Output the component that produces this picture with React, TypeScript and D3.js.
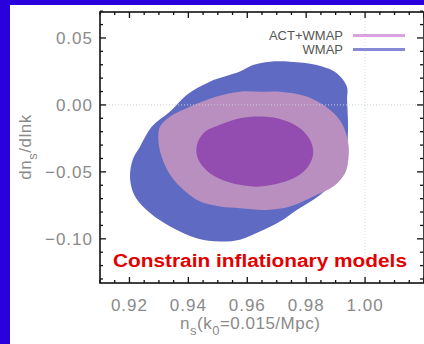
import React from 'react';
import * as d3 from 'd3';

// contour outlines: [n_s, dn_s/dlnk]
const wmap95: [number, number][] = [
  [0.9202, -0.0547], [0.9211, -0.0410], [0.9236, -0.0311], [0.9276, -0.0162],
  [0.9338, -0.0050], [0.9394, 0.0075], [0.9473, 0.0174], [0.9575, 0.0249],
  [0.9619, 0.0298], [0.9677, 0.0323], [0.9745, 0.0323], [0.9836, 0.0298],
  [0.9904, 0.0237], [0.9938, 0.0137], [0.9939, 0.0037], [0.9942, -0.0187],
  [0.9932, -0.0410], [0.9898, -0.0560], [0.9847, -0.0672], [0.9768, -0.0784],
  [0.9711, -0.0871], [0.9643, -0.0946], [0.9575, -0.1007], [0.9507, -0.1020],
  [0.9428, -0.0995], [0.9338, -0.0908], [0.9270, -0.0808], [0.9219, -0.0684],
];

const act95: [number, number][] = [
  [0.9575, 0.0099], [0.9496, 0.0062], [0.9394, -0.0025], [0.9338, -0.0087],
  [0.9304, -0.0162], [0.9298, -0.0261], [0.9309, -0.0386], [0.9338, -0.0522],
  [0.9383, -0.0634], [0.9440, -0.0722], [0.9507, -0.0759], [0.9575, -0.0771],
  [0.9666, -0.0784], [0.9745, -0.0759], [0.9824, -0.0684], [0.9892, -0.0610],
  [0.9932, -0.0510], [0.9943, -0.0410], [0.9943, -0.0286], [0.9921, -0.0137],
  [0.9881, -0.0037], [0.9802, 0.0062], [0.9711, 0.0099], [0.9643, 0.0099],
];

const act68: [number, number][] = [
  [0.9575, -0.0099], [0.9507, -0.0149], [0.9451, -0.0211], [0.9428, -0.0311],
  [0.9434, -0.0410], [0.9473, -0.0510], [0.9530, -0.0572], [0.9575, -0.0597],
  [0.9643, -0.0610], [0.9711, -0.0584], [0.9768, -0.0535], [0.9807, -0.0460],
  [0.9824, -0.0360], [0.9813, -0.0261], [0.9779, -0.0174], [0.9722, -0.0112],
  [0.9654, -0.0087],
];

const xTickLabels = ['0.92', '0.94', '0.96', '0.98', '1.00'];
const yTickLabels = ['0.05', '0.00', '-0.05', '-0.10'];
const legendLabels = ['ACT+WMAP', 'WMAP'];
const legendColors = ['#d9a3e2', '#8589d6'];

const W = 424;
const H = 344;

export default function App() {
  const x = d3.scaleLinear().domain([0.91, 1.02]).range([100, 424]);
  const y = d3.scaleLinear().domain([-0.133, 0.0694]).range([283, 12]);

  const line = d3
    .line<[number, number]>()
    .x((d) => x(d[0]))
    .y((d) => y(d[1]))
    .curve(d3.curveCatmullRomClosed.alpha(0.5));

  const xMinor = d3.range(0.91, 1.0201, 0.005);
  const yMinor = d3.range(-0.13, 0.0701, 0.01);
  const isMajorX = (v: number) => Math.abs(v * 50 - Math.round(v * 50)) < 1e-6;
  const isMajorY = (v: number) => Math.abs(v * 20 - Math.round(v * 20)) < 1e-6;

  const [x0, x1] = x.range();
  const y0 = y.range()[1];
  const y1 = y.range()[0];
  const tickFont = { fontFamily: 'Liberation Sans, Arial, sans-serif', fill: '#8a8a8a', fontSize: 17, letterSpacing: 1 };

  return (
    <svg width={W} height={H} style={{ position: 'fixed', left: 0, top: 0 }}>
      <rect x={0} y={0} width={W} height={H} fill="#2a00dc" />
      <rect x={10} y={5} width={W - 10} height={H - 5} fill="#ffffff" />

      {/* contours */}
      <path d={line(wmap95) || ''} fill="#5f6bc3" />
      <path d={line(act95) || ''} fill="#b88fbf" />
      <path d={line(act68) || ''} fill="#934db0" />

      {/* zero / n_s = 1 guide lines */}
      <line x1={x0} x2={x1} y1={y(0)} y2={y(0)} stroke="#c9cfd6" strokeWidth={1.2} strokeDasharray="1,2" opacity={0.8} />
      <line x1={x(1)} x2={x(1)} y1={y0} y2={y1} stroke="#cfe6ea" strokeWidth={1.2} strokeDasharray="1,2" />

      {/* frame */}
      <rect x={x0} y={y0} width={x1 - x0} height={y1 - y0} fill="none" stroke="#111" strokeWidth={1.6} />

      {xMinor.map((v, i) => {
        const len = isMajorX(v) ? 6 : 3;
        return (
          <g key={'xt' + i} stroke="#111" strokeWidth={1.3}>
            <line x1={x(v)} x2={x(v)} y1={y1} y2={y1 - len} />
            <line x1={x(v)} x2={x(v)} y1={y0} y2={y0 + len} />
          </g>
        );
      })}
      {yMinor.map((v, i) => {
        const len = isMajorY(v) ? 6 : 3;
        return (
          <g key={'yt' + i} stroke="#111" strokeWidth={1.3}>
            <line x1={x0} x2={x0 + len} y1={y(v)} y2={y(v)} />
            <line x1={x1 - 1} x2={x1 - 1 - len} y1={y(v)} y2={y(v)} />
          </g>
        );
      })}

      {xTickLabels.map((t) => (
        <text key={t} x={x(+t)} y={311} textAnchor="middle" {...tickFont}>
          {t}
        </text>
      ))}
      {yTickLabels.map((t) => (
        <text key={t} x={93} y={y(+t) + 6} textAnchor="end" {...tickFont}>
          {t.replace('-', '\u2212')}
        </text>
      ))}

      {/* axis titles */}
      <text x={180} y={329} {...tickFont} letterSpacing={0.5}>
        n<tspan fontSize={13} dy={6}>s</tspan>
        <tspan dy={-6}>(k</tspan>
        <tspan fontSize={13} dy={6}>0</tspan>
        <tspan dy={-6}>=0.015/Mpc)</tspan>
      </text>
      <text transform="translate(31,147) rotate(-90)" textAnchor="middle" {...tickFont} letterSpacing={0.5}>
        dn<tspan fontSize={13} dy={6}>s</tspan>
        <tspan dy={-6}>/dlnk</tspan>
      </text>

      {/* legend */}
      {legendLabels.map((l, i) => (
        <g key={l}>
          <text
            x={343}
            y={40 + i * 14}
            textAnchor="end"
            fontFamily="Liberation Sans, Arial, sans-serif"
            fontSize={13}
            fill="#555"
          >
            {l}
          </text>
          <line x1={353} x2={405} y1={35.5 + i * 14} y2={35.5 + i * 14} stroke={legendColors[i]} strokeWidth={3} />
        </g>
      ))}

      <text
        x={113}
        y={267}
        fontFamily="Liberation Sans, Arial, sans-serif"
        fontWeight="bold"
        fontSize={18}
        fill="#e30000"
        textLength={294}
        lengthAdjust="spacingAndGlyphs"
      >
        Constrain inflationary models
      </text>
    </svg>
  );
}
